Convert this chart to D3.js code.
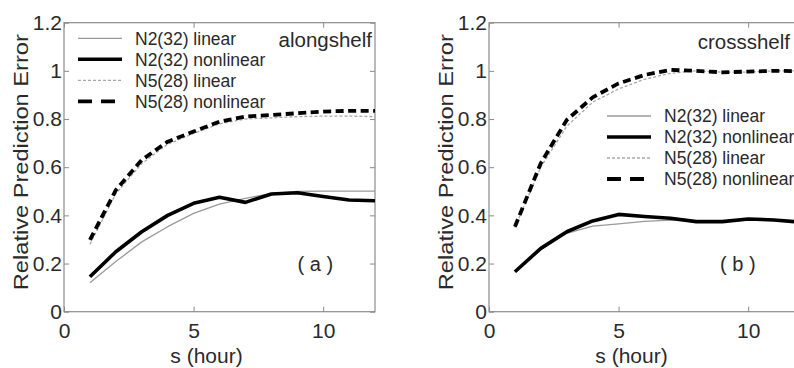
<!DOCTYPE html>
<html>
<head>
<meta charset="utf-8">
<script src="https://cdn.jsdelivr.net/npm/d3@7"></script>
<style>
  body { margin: 0; background: #fff; }
  svg { display: block; font-family: "Liberation Sans", Arial, sans-serif; }
</style>
</head>
<body>
<svg id="chart" width="794" height="368"></svg>
<script>
// forecast horizon (hours)
const hours = [1, 2, 3, 4, 5, 6, 7, 8, 9, 10, 11, 12];

// (a) alongshelf
const alongN2Lin  = [0.12, 0.208, 0.29, 0.353, 0.408, 0.447, 0.471, 0.49, 0.5, 0.501, 0.501, 0.501];
const alongN2Non  = [0.145, 0.249, 0.332, 0.40, 0.45, 0.475, 0.454, 0.489, 0.494, 0.478, 0.464, 0.461];
const alongN5Lin  = [0.28, 0.49, 0.615, 0.695, 0.74, 0.78, 0.80, 0.805, 0.81, 0.812, 0.812, 0.81];
const alongN5Non  = [0.298, 0.505, 0.63, 0.706, 0.748, 0.789, 0.81, 0.817, 0.824, 0.831, 0.834, 0.834];

// (b) crossshelf
const crossN2Lin  = [0.165, 0.26, 0.325, 0.355, 0.365, 0.375, 0.38, 0.375, 0.372, 0.38, 0.378, 0.372];
const crossN2Non  = [0.166, 0.263, 0.332, 0.377, 0.404, 0.395, 0.388, 0.374, 0.374, 0.385, 0.381, 0.372];
const crossN5Lin  = [0.35, 0.60, 0.77, 0.87, 0.925, 0.965, 0.99, 1.0, 0.995, 0.995, 1.0, 1.0];
const crossN5Non  = [0.353, 0.617, 0.796, 0.89, 0.948, 0.983, 1.004, 1.0, 0.994, 0.997, 1.0, 0.999];

const seriesNames = ['N2(32) linear', 'N2(32) nonlinear', 'N5(28) linear', 'N5(28) nonlinear'];
const xTicks = [0, 5, 10];
const yTicks = [0, 0.2, 0.4, 0.6, 0.8, 1, 1.2];

// line styles per series (same order as seriesNames)
const styles = [
  { stroke: '#9a9a9a', width: 1.3, dash: null,  legendDash: null },
  { stroke: '#000',    width: 3.6, dash: null,  legendDash: null },
  { stroke: '#a8a8a8', width: 1.3, dash: '3,2', legendDash: '3,2' },
  { stroke: '#000',    width: 3.8, dash: '8,4.5', legendDash: '14,9' }
];

const svg = d3.select('#chart');

function drawPanel(p) {
  const w = 311, h = 289;
  const g = svg.append('g').attr('transform', 'translate(' + p.left + ',' + p.top + ')');

  const x = d3.scaleLinear().domain([0, 12]).range([0, w]);
  const y = d3.scaleLinear().domain([0, 1.2]).range([h, 0]);

  // box
  g.append('rect')
    .attr('width', w).attr('height', h)
    .attr('fill', 'none').attr('stroke', '#8c8c8c').attr('stroke-width', 1.2);

  const fmt = d3.format('~g');

  const xb = g.append('g').attr('transform', 'translate(0,' + h + ')')
    .call(d3.axisBottom(x).tickValues(xTicks).tickSizeInner(-5).tickSizeOuter(0).tickPadding(11).tickFormat(fmt));
  const yl = g.append('g')
    .call(d3.axisLeft(y).tickValues(yTicks).tickSizeInner(-5).tickSizeOuter(0).tickPadding(2).tickFormat(fmt));
  const xt = g.append('g')
    .call(d3.axisTop(x).tickValues(xTicks).tickSizeInner(-5).tickSizeOuter(0).tickFormat(''));
  const yr = g.append('g').attr('transform', 'translate(' + w + ',0)')
    .call(d3.axisRight(y).tickValues(yTicks).tickSizeInner(-5).tickSizeOuter(0).tickFormat(''));

  [xb, yl, xt, yr].forEach(a => {
    a.select('.domain').remove();
    a.selectAll('line').attr('stroke', '#8c8c8c');
    a.selectAll('text').attr('fill', '#2a2a2a').style('font-size', '21px')
      .style('font-family', '"Liberation Sans", Arial, sans-serif');
  });

  // curves
  const line = d3.line().x(d => x(d[0])).y(d => y(d[1]));
  p.series.forEach((vals, i) => {
    const s = styles[i];
    g.append('path')
      .datum(hours.map((hr, k) => [hr, vals[k]]))
      .attr('d', line)
      .attr('fill', 'none')
      .attr('stroke', s.stroke)
      .attr('stroke-width', s.width)
      .attr('stroke-dasharray', s.dash)
      .attr('stroke-linejoin', 'round');
  });

  // legend
  const lg = g.append('g').attr('transform', 'translate(' + p.legX + ',' + p.legY + ')');
  seriesNames.forEach((name, i) => {
    const s = styles[i];
    const ry = i * 21;
    lg.append('line')
      .attr('x1', 0).attr('x2', 44).attr('y1', ry).attr('y2', ry)
      .attr('stroke', s.stroke).attr('stroke-width', s.width)
      .attr('stroke-dasharray', s.legendDash);
    lg.append('text')
      .attr('x', 57).attr('y', ry).attr('dy', '0.36em')
      .attr('fill', '#2a2a2a').style('font-size', '17.5px')
      .text(name);
  });

  // panel title + tag
  g.append('text')
    .attr('x', p.titleX).attr('y', p.titleY)
    .attr('text-anchor', 'end').attr('fill', '#2a2a2a').style('font-size', '20.5px')
    .text(p.title);
  g.append('text')
    .attr('x', x(p.tagAt)).attr('y', y(0.2)).attr('dy', '0.36em')
    .attr('text-anchor', 'middle').attr('fill', '#2a2a2a').style('font-size', '20px')
    .attr('xml:space', 'preserve')
    .text(p.tag);

  // axis labels
  g.append('text')
    .attr('x', x(5.5)).attr('y', h + 51)
    .attr('text-anchor', 'middle').attr('fill', '#2a2a2a').style('font-size', '21px')
    .text('s (hour)');
  g.append('text')
    .attr('transform', 'translate(-36,' + (h / 2 - 5) + ') rotate(-90)')
    .attr('text-anchor', 'middle').attr('fill', '#2a2a2a').style('font-size', '21px')
    .attr('textLength', 256).attr('lengthAdjust', 'spacingAndGlyphs')
    .text('Relative Prediction Error');
}

drawPanel({
  left: 64, top: 22.7,
  series: [alongN2Lin, alongN2Non, alongN5Lin, alongN5Non],
  legX: 14, legY: 15.6,
  title: 'alongshelf', titleX: 308, titleY: 24,
  tag: '( a )', tagAt: 9.7
});

drawPanel({
  left: 489, top: 22.7,
  series: [crossN2Lin, crossN2Non, crossN5Lin, crossN5Non],
  legX: 118, legY: 93.3,
  title: 'crossshelf', titleX: 301, titleY: 26.5,
  tag: '( b )', tagAt: 9.6
});
</script>
</body>
</html>
